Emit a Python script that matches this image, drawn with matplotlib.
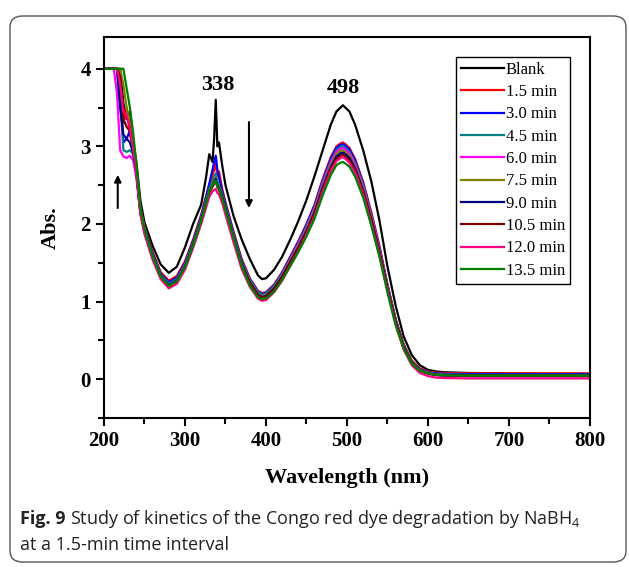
import matplotlib
matplotlib.use("Agg")
import matplotlib.pyplot as plt
from matplotlib.patches import FancyBboxPatch

plt.rcParams['mathtext.fontset'] = 'custom'
plt.rcParams['mathtext.rm'] = 'Open Sans'
plt.rcParams['mathtext.bf'] = 'Open Sans:bold'

wavelength = [200, 212, 216, 220, 224, 228, 232, 236, 240, 245, 250, 260, 270, 280, 290, 300,
              310, 320, 326, 330, 334, 336, 338, 340, 342, 346, 350, 360, 370,
              380, 390, 395, 400, 410, 420, 430, 440, 450, 460, 470, 480, 487, 492, 495, 498,
              503, 510, 520, 530, 540, 550, 560, 570, 580, 590, 600, 610, 620, 650, 700, 750, 800]

blank = [4, 4, 4, 4, 3.55, 3.35, 3.45, 3.05, 2.8, 2.3, 2.02, 1.72, 1.48, 1.37, 1.45, 1.7,
         2.0, 2.25, 2.6, 2.9, 2.8, 3.1, 3.6, 3.0, 3.05, 2.75, 2.5, 2.1, 1.8,
         1.55, 1.34, 1.29, 1.3, 1.41, 1.58, 1.8, 2.04, 2.31, 2.62, 2.95, 3.28, 3.45, 3.5, 3.53, 3.5,
         3.45, 3.28, 2.95, 2.55, 2.05, 1.45, 0.95, 0.55, 0.31, 0.18, 0.12, 0.1, 0.09, 0.08, 0.075, 0.07, 0.07]
t15 = [4, 4, 4, 3.75, 3.3, 3.5, 3.15, 3.0, 2.7, 2.2, 1.97, 1.64, 1.38, 1.27, 1.33, 1.52,
       1.8, 2.12, 2.36, 2.5, 2.62, 2.7, 2.78, 2.62, 2.68, 2.45, 2.28, 1.9, 1.55,
       1.3, 1.14, 1.11, 1.12, 1.22, 1.38, 1.58, 1.78, 2.0, 2.25, 2.58, 2.86, 3.0, 3.04, 3.05, 3.03,
       2.98, 2.84, 2.54, 2.15, 1.72, 1.22, 0.78, 0.45, 0.24, 0.14, 0.1, 0.085, 0.08, 0.075, 0.075, 0.075, 0.075]
t30 = [4, 4, 4, 3.7, 3.05, 3.1, 3.2, 3.0, 2.68, 2.18, 1.95, 1.62, 1.36, 1.25, 1.31, 1.5,
       1.78, 2.1, 2.34, 2.52, 2.7, 2.8, 2.88, 2.7, 2.6, 2.42, 2.26, 1.88, 1.53,
       1.29, 1.13, 1.10, 1.11, 1.21, 1.37, 1.57, 1.77, 1.99, 2.24, 2.56, 2.84, 2.98, 3.02, 3.03, 3.01,
       2.96, 2.82, 2.52, 2.13, 1.70, 1.21, 0.77, 0.44, 0.23, 0.13, 0.09, 0.075, 0.07, 0.065, 0.065, 0.065, 0.065]
t45 = [4, 4, 4, 3.6, 2.95, 2.93, 2.95, 2.9, 2.65, 2.16, 1.93, 1.6, 1.35, 1.23, 1.29, 1.48,
       1.76, 2.08, 2.31, 2.45, 2.55, 2.6, 2.65, 2.55, 2.5, 2.38, 2.23, 1.86, 1.51,
       1.28, 1.12, 1.09, 1.10, 1.20, 1.36, 1.55, 1.75, 1.97, 2.21, 2.54, 2.81, 2.95, 2.99, 3.00, 2.98,
       2.93, 2.79, 2.50, 2.11, 1.69, 1.20, 0.76, 0.43, 0.22, 0.12, 0.085, 0.065, 0.06, 0.055, 0.055, 0.055, 0.055]
t60 = [4, 4, 3.7, 2.95, 2.87, 2.85, 2.88, 2.82, 2.6, 2.13, 1.9, 1.58, 1.33, 1.21, 1.27, 1.46,
       1.74, 2.06, 2.28, 2.42, 2.5, 2.53, 2.55, 2.48, 2.45, 2.35, 2.2, 1.83, 1.49,
       1.26, 1.10, 1.07, 1.08, 1.18, 1.34, 1.54, 1.74, 1.95, 2.20, 2.52, 2.79, 2.93, 2.97, 2.98, 2.96,
       2.91, 2.77, 2.48, 2.10, 1.68, 1.19, 0.75, 0.42, 0.21, 0.11, 0.07, 0.05, 0.04, 0.035, 0.035, 0.035, 0.035]
t75 = [4, 4, 4, 4, 3.8, 3.5, 3.3, 3.05, 2.72, 2.18, 1.93, 1.59, 1.33, 1.21, 1.27, 1.46,
       1.74, 2.06, 2.28, 2.43, 2.52, 2.56, 2.6, 2.5, 2.48, 2.36, 2.21, 1.84, 1.49,
       1.26, 1.10, 1.07, 1.08, 1.18, 1.33, 1.53, 1.72, 1.93, 2.18, 2.49, 2.76, 2.90, 2.94, 2.95, 2.93,
       2.88, 2.74, 2.46, 2.08, 1.66, 1.18, 0.75, 0.42, 0.22, 0.12, 0.08, 0.06, 0.055, 0.05, 0.05, 0.05, 0.05]
t90 = [4, 4, 4, 3.5, 3.15, 3.1, 3.05, 2.92, 2.65, 2.15, 1.91, 1.58, 1.33, 1.21, 1.27, 1.45,
       1.73, 2.05, 2.27, 2.42, 2.5, 2.54, 2.58, 2.5, 2.46, 2.35, 2.2, 1.83, 1.48,
       1.25, 1.09, 1.06, 1.07, 1.17, 1.32, 1.51, 1.70, 1.91, 2.15, 2.47, 2.73, 2.87, 2.91, 2.92, 2.90,
       2.85, 2.72, 2.43, 2.06, 1.65, 1.17, 0.74, 0.41, 0.21, 0.11, 0.075, 0.055, 0.05, 0.045, 0.045, 0.045, 0.045]
t105 = [4, 4, 4, 3.9, 3.35, 3.25, 3.2, 3.0, 2.68, 2.15, 1.9, 1.57, 1.32, 1.19, 1.26, 1.44,
        1.72, 2.04, 2.26, 2.4, 2.48, 2.52, 2.55, 2.48, 2.44, 2.33, 2.18, 1.82, 1.47,
        1.24, 1.08, 1.05, 1.06, 1.16, 1.31, 1.50, 1.69, 1.89, 2.13, 2.44, 2.71, 2.84, 2.88, 2.89, 2.87,
        2.82, 2.69, 2.41, 2.04, 1.63, 1.16, 0.73, 0.41, 0.21, 0.11, 0.075, 0.055, 0.05, 0.045, 0.045, 0.045, 0.045]
t120 = [4, 4, 4, 3.8, 3.45, 3.4, 3.25, 2.98, 2.64, 2.12, 1.87, 1.54, 1.29, 1.17, 1.23, 1.41,
        1.69, 2.0, 2.21, 2.35, 2.42, 2.44, 2.45, 2.4, 2.38, 2.27, 2.12, 1.76, 1.42,
        1.19, 1.04, 1.01, 1.02, 1.12, 1.27, 1.46, 1.65, 1.86, 2.10, 2.41, 2.68, 2.81, 2.85, 2.86, 2.84,
        2.79, 2.66, 2.38, 2.01, 1.60, 1.13, 0.70, 0.38, 0.18, 0.08, 0.04, 0.02, 0.015, 0.01, 0.01, 0.01, 0.01]
t135 = [4, 4, 4, 4, 4, 3.75, 3.5, 3.18, 2.78, 2.2, 1.93, 1.58, 1.32, 1.2, 1.26, 1.44,
        1.72, 2.04, 2.26, 2.42, 2.5, 2.53, 2.56, 2.48, 2.45, 2.33, 2.18, 1.82, 1.46,
        1.21, 1.06, 1.03, 1.04, 1.13, 1.28, 1.46, 1.64, 1.84, 2.07, 2.37, 2.63, 2.76, 2.79, 2.80, 2.78,
        2.74, 2.61, 2.34, 1.98, 1.58, 1.12, 0.70, 0.39, 0.20, 0.11, 0.075, 0.055, 0.05, 0.045, 0.045, 0.045, 0.045]

series = [blank, t15, t30, t45, t60, t75, t90, t105, t120, t135]
labels = ["Blank", "1.5 min", "3.0 min", "4.5 min", "6.0 min", "7.5 min",
          "9.0 min", "10.5 min", "12.0 min", "13.5 min"]
colors = ["#000000", "#FF0000", "#0000FF", "#008080", "#FF00FF", "#808000",
          "#000080", "#800000", "#FF0080", "#008000"]

fig = plt.figure(figsize=(6.29, 5.67), dpi=100)
ax = fig.add_axes([0.1653, 0.2628, 0.7727, 0.672])

for y, lab, c in zip(series, labels, colors):
    ax.plot(wavelength, y, color=c, lw=1.6, label=lab)

ax.set_xlim(200, 800)
ax.set_ylim(-0.5, 4.41)
ax.set_xticks([200, 300, 400, 500, 600, 700, 800])
ax.set_xticks([250, 350, 450, 550, 650, 750], minor=True)
ax.set_yticks([0, 1, 2, 3, 4])
ax.set_yticks([-0.5, 0.5, 1.5, 2.5, 3.5], minor=True)
ax.tick_params(which='both', direction='out', width=1.5, top=False, right=False)
ax.tick_params(which='major', length=6, labelsize=15)
ax.tick_params(which='minor', length=4)
for lbl in ax.get_xticklabels() + ax.get_yticklabels():
    lbl.set_fontfamily('Liberation Serif')
    lbl.set_fontweight('bold')
for s in ax.spines.values():
    s.set_linewidth(1.5)

ax.set_xlabel("Wavelength (nm)", fontsize=16, fontweight='bold', family='Liberation Serif', labelpad=12)
ax.set_ylabel("Abs.", fontsize=16, fontweight='bold', family='Liberation Serif', labelpad=14)

ax.text(340.5, 3.79, "338", fontsize=16, fontweight='bold', family='Liberation Serif', ha='center', va='center')
ax.text(495, 3.75, "498", fontsize=16, fontweight='bold', family='Liberation Serif', ha='center', va='center')

ax.annotate("", xy=(217, 2.67), xytext=(217, 2.17),
            arrowprops=dict(arrowstyle='-|>', color='black', lw=1.5, mutation_scale=10))
ax.annotate("", xy=(379, 2.17), xytext=(379, 3.35),
            arrowprops=dict(arrowstyle='-|>', color='black', lw=1.5, mutation_scale=10))

leg = ax.legend(loc='upper right', bbox_to_anchor=(0.959, 0.948), borderaxespad=0,
                prop={'family': 'Liberation Serif', 'size': 12}, fancybox=False,
                edgecolor='black', framealpha=1, handlelength=2.6, handletextpad=0.1,
                labelspacing=0.38, borderpad=0.3)
leg.get_frame().set_linewidth(1.0)

box = FancyBboxPatch((10 / 629, 5 / 567), 616 / 629, 546 / 567,
                     boxstyle="round,pad=0,rounding_size=0.02", transform=fig.transFigure,
                     facecolor='none', edgecolor='#555555', lw=1.0)
fig.patches.append(box)

cap_size = 13.0
t1 = fig.text(20 / 629, 1 - 519 / 567, "Fig. 9", fontsize=cap_size, family='Open Sans',
              fontweight='bold', color='#222222', va='center', ha='left')
fig.canvas.draw()
bb = t1.get_window_extent()
x_next = (bb.x1 + 4) / fig.bbox.width
fig.text(x_next, 1 - 519 / 567,
         "Study of kinetics of the Congo red dye degradation by NaBH$_4$",
         fontsize=cap_size, family='Open Sans', color='#222222', va='center', ha='left')
fig.text(20 / 629, 1 - 545 / 567, "at a 1.5-min time interval",
         fontsize=cap_size, family='Open Sans', color='#222222', va='center', ha='left')

fig.savefig("out.png", dpi=100)
